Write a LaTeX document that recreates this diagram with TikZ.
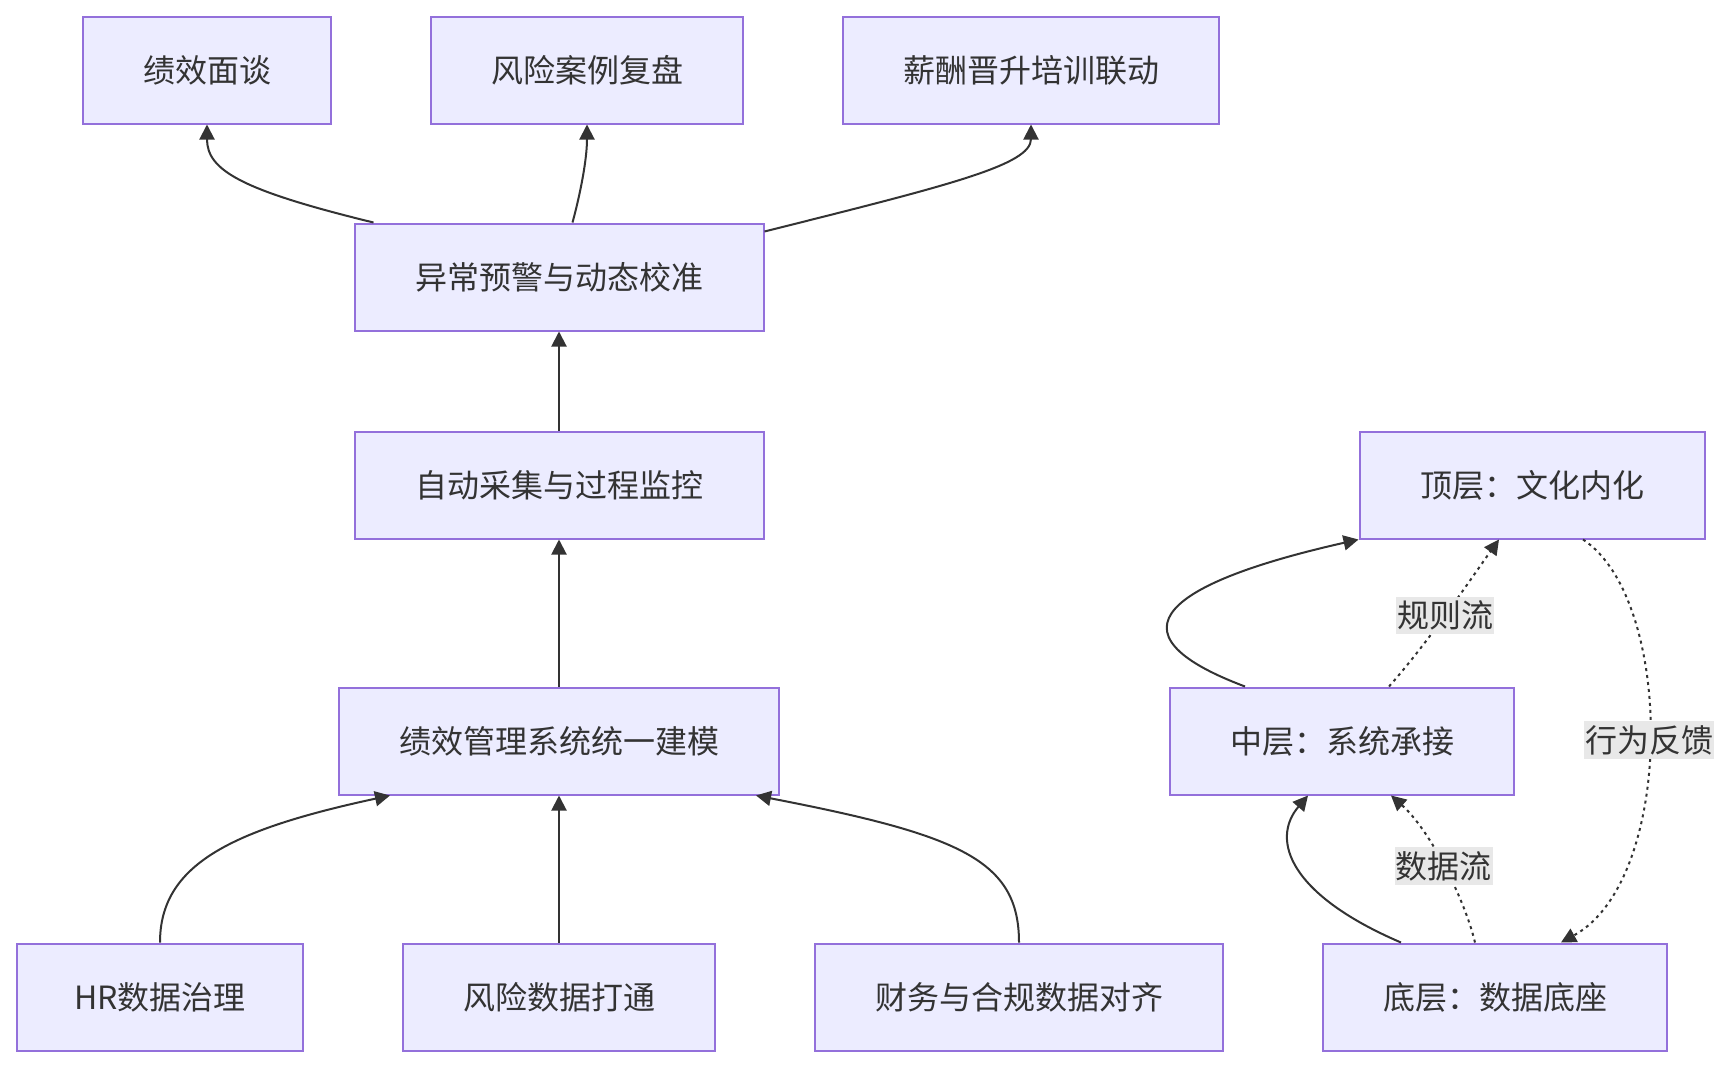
\documentclass[tikz,border=0pt]{standalone}
\usepackage{fontspec}
\setmainfont{Noto Sans CJK SC}
\usetikzlibrary{arrows.meta}
\definecolor{nodefill}{HTML}{ECECFF}
\definecolor{nodeline}{HTML}{9370DB}
\definecolor{txt}{HTML}{333333}
\definecolor{lbl}{HTML}{E8E8E8}
\begin{document}
\begin{tikzpicture}[x=1pt,y=-1pt,
  box/.style={draw=nodeline, fill=nodefill, line width=2pt, minimum height=107pt, inner sep=0pt, text=txt, font=\fontsize{32}{37}\selectfont},
  link/.style={draw=txt, line width=2pt, -{Triangle[length=15pt,width=15pt]}},
  dotlink/.style={link, dash pattern=on 3pt off 4pt},
  elabel/.style={fill=lbl, text=txt, inner xsep=1pt, inner ysep=4pt, font=\fontsize{32}{37}\selectfont}]
\useasboundingbox (0,0) rectangle (1728,1068);

\node[box, minimum width=248pt] (jx) at (207,70) {绩效面谈};
\node[box, minimum width=312pt] (fx) at (587,70) {风险案例复盘};
\node[box, minimum width=376pt] (xc) at (1031,70) {薪酬晋升培训联动};
\node[box, minimum width=409pt] (yj) at (559,277) {异常预警与动态校准};
\node[box, minimum width=409pt] (zd) at (559,485) {自动采集与过程监控};
\node[box, minimum width=440pt] (gl) at (559,741) {绩效管理系统统一建模};
\node[box, minimum width=286pt] (hr) at (160,997) {HR数据治理};
\node[box, minimum width=312pt] (fs) at (559,997) {风险数据打通};
\node[box, minimum width=408pt] (cw) at (1019,997) {财务与合规数据对齐};
\node[box, minimum width=345pt] (top) at (1532,485) {顶层：文化内化};
\node[box, minimum width=344pt] (mid) at (1342,741) {中层：系统承接};
\node[box, minimum width=344pt] (bot) at (1495,997) {底层：数据底座};

% left flow
\draw[link] ([xshift=20pt]yj.north west) .. controls (240,190) and (207,170) .. (jx.south);
\draw[link] ([xshift=219pt]yj.north west) .. controls (580,195) and (587,160) .. (fx.south);
\draw[link] ([yshift=-9pt]yj.north east) .. controls (950,185) and (1031,165) .. (xc.south);
\draw[link] (zd.north) -- (yj.south);
\draw[link] (gl.north) -- (zd.south);
\draw[link] (hr.north) .. controls (160,865) and (230,830) .. ([xshift=52pt]gl.south west);
\draw[link] (fs.north) -- (gl.south);
\draw[link] (cw.north) .. controls (1019,860) and (960,835) .. ([xshift=-24pt]gl.south east);

% right flow
\draw[link] ([xshift=76pt]mid.north west) .. controls (1100,632) and (1170,582) .. (top.south west);
\draw[dotlink] ([xshift=47pt]mid.north) .. controls (1430,640) and (1470,580) .. node[elabel, pos=0.47] {规则流} ([xshift=-33pt]top.south);
\draw[dotlink] ([xshift=51pt]top.south) .. controls (1675,600) and (1675,880) .. node[elabel, pos=0.5] {行为反馈} ([xshift=239pt]bot.north west);
\draw[link] ([xshift=79pt]bot.north west) .. controls (1290,895) and (1270,840) .. ([xshift=139pt]mid.south west);
\draw[dotlink] ([xshift=153pt]bot.north west) .. controls (1465,900) and (1430,830) .. node[elabel, pos=0.5] {数据流} ([xshift=49pt]mid.south);
\end{tikzpicture}
\end{document}
